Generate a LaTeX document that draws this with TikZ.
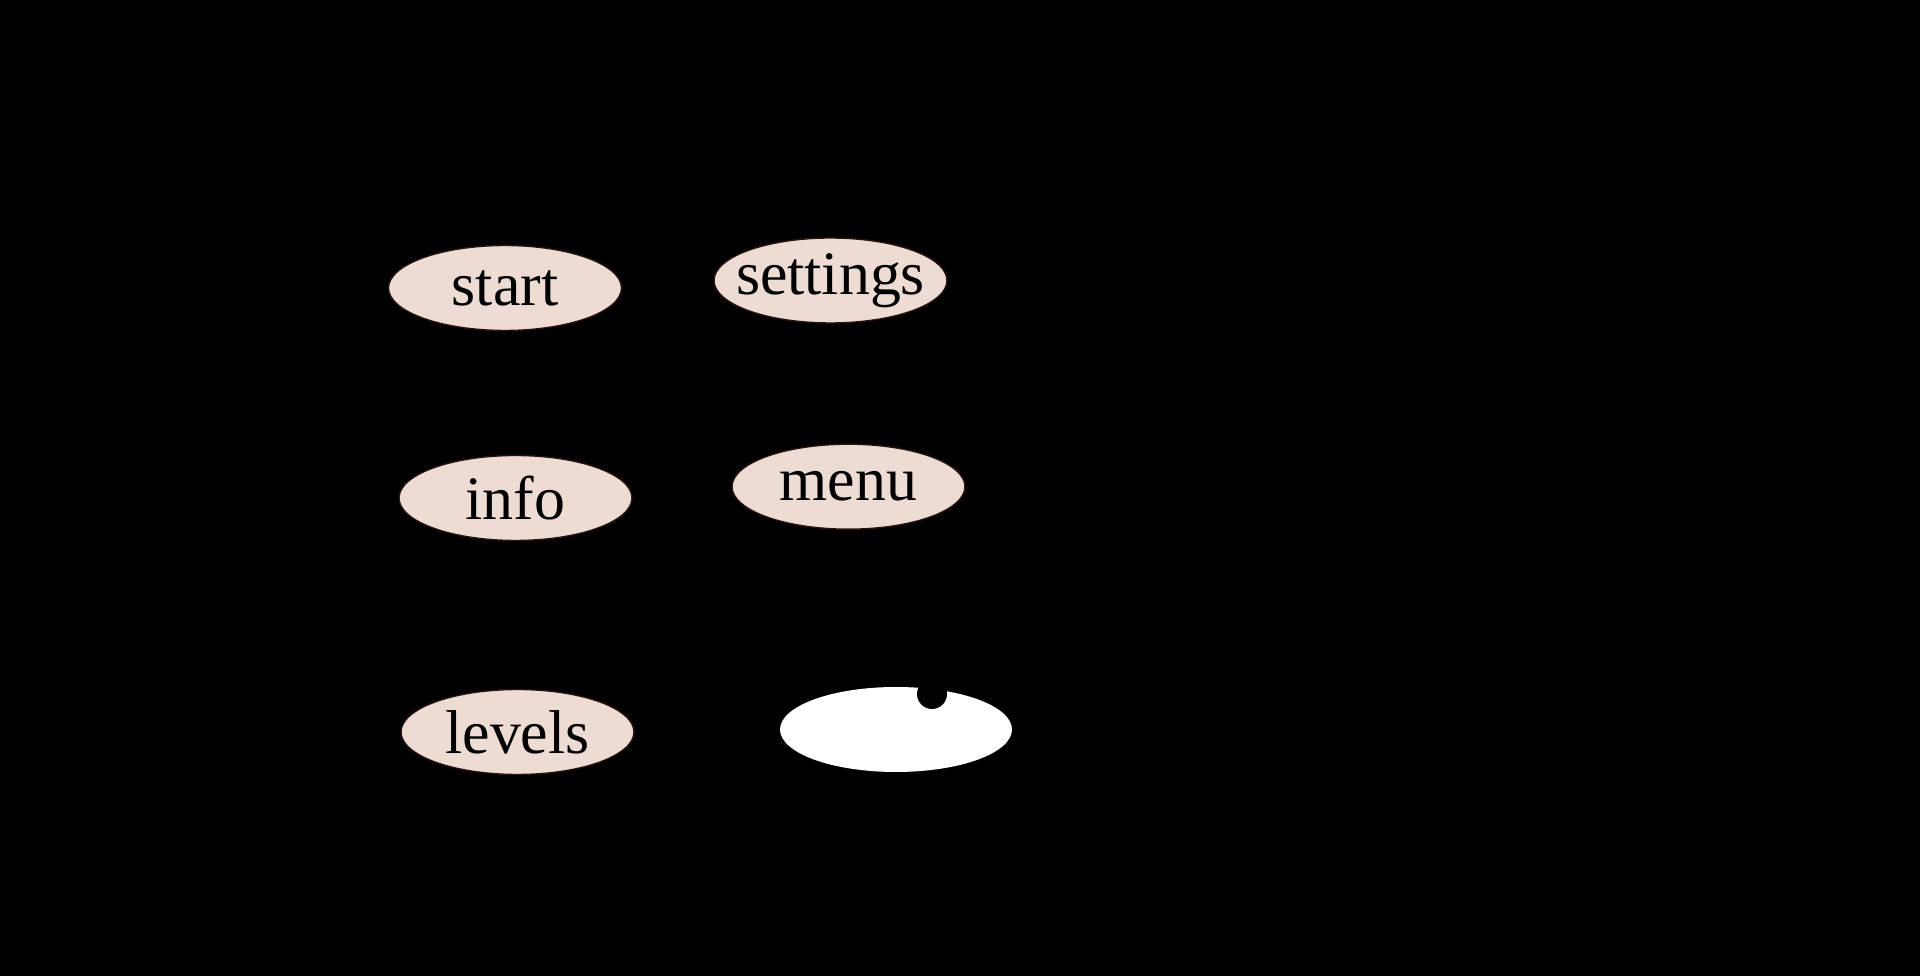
\documentclass[tikz,border=0pt]{standalone}
\usepackage{fontspec}
\setmainfont{Liberation Serif}
\usetikzlibrary{shapes,positioning}
\definecolor{pagebg}{RGB}{0,0,0}
\definecolor{screenfill}{RGB}{237,220,211}
\definecolor{screenline}{RGB}{40,20,15}

\begin{document}
\begin{tikzpicture}[
  screen/.style={draw=screenline, ellipse, fill=screenfill, text=black, font=\fontsize{17.6}{20}\selectfont, minimum width=2.33cm, minimum height=0.85cm, inner sep=0pt},
  endscreen/.style={ellipse, fill=white, minimum width=2.32cm, minimum height=0.85cm, inner sep=0pt}]
\fill[pagebg] (0,0) rectangle (19.2,9.76);
\useasboundingbox (0,0) rectangle (19.2,9.76);
%============
\node[screen] (start) at (5.05,6.88) {\makebox[0pt]{start}};
\node[screen] (settings) at (8.305,6.955) {\makebox[0pt]{settings}};
\node[screen] (info) at (5.155,4.78) {\makebox[0pt]{info}};
\node[screen] (menu) at (8.485,4.893) {\makebox[0pt]{menu}};
\node[screen] (levels) at (5.175,2.44) {\makebox[0pt]{levels}};
%==========
\node[endscreen] (quit) at (8.96,2.465) {};
\node[circle, fill=black, minimum size=0.3cm, inner sep=0pt] (dot) at (9.32,2.82) {};
\end{tikzpicture}
\end{document}
